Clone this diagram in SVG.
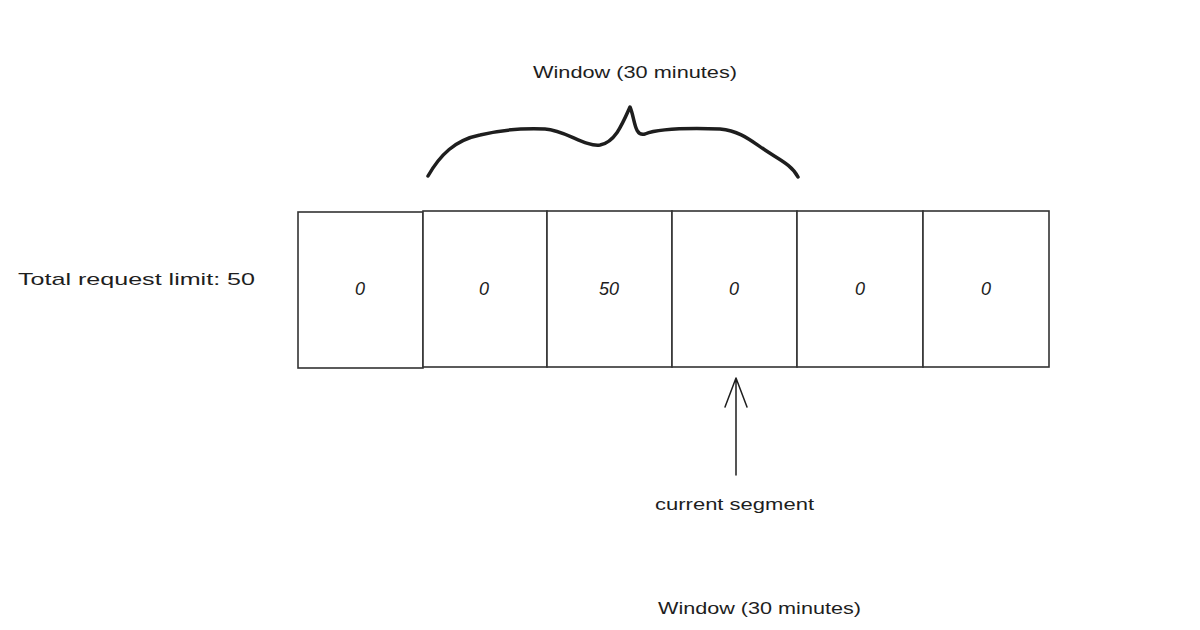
<svg xmlns="http://www.w3.org/2000/svg" width="1200" height="630" viewBox="0 0 1200 630">
<style>
.box{fill:#fff;stroke:#333;stroke-width:1.6}
.t{font-family:"Liberation Sans",Arial,sans-serif;font-size:17px;fill:#1e1e1e}
.v{font-family:"Liberation Sans",Arial,sans-serif;font-size:18px;font-style:italic;fill:#1e1e1e;text-anchor:middle}
.ln{fill:none;stroke:#1e1e1e;stroke-linecap:round;stroke-linejoin:round}
</style>
<rect width="1200" height="630" fill="#fff"/>
<g id="label-limit"><text class="t" x="18" y="285" textLength="237" lengthAdjust="spacingAndGlyphs">Total request limit: 50</text></g>
<g id="label-window-top"><text class="t" x="533" y="78" textLength="204" lengthAdjust="spacingAndGlyphs">Window (30 minutes)</text></g>
<g id="seg1"><rect class="box" x="298" y="212" width="125" height="156"/><text class="v" x="360" y="295">0</text></g>
<g id="seg2"><rect class="box" x="423" y="211" width="124" height="156"/><text class="v" x="484" y="295">0</text></g>
<g id="seg3"><rect class="box" x="547" y="211" width="125" height="156"/><text class="v" x="609" y="295">50</text></g>
<g id="seg4"><rect class="box" x="672" y="211" width="125" height="156"/><text class="v" x="734" y="295">0</text></g>
<g id="seg5"><rect class="box" x="797" y="211" width="126" height="156"/><text class="v" x="860" y="295">0</text></g>
<g id="seg6"><rect class="box" x="923" y="211" width="126" height="156"/><text class="v" x="986" y="295">0</text></g>
<g id="brace"><path class="ln" stroke-width="3.5" d="M428,176 C440,155 455,140 480,135 C500,130 520,128 545,129 C565,130 585,147 600,145 C615,142 622,125 630,107 C635,118 634,137 645,134 C660,128 690,128 720,129 C740,131 750,140 765,150 C780,160 792,165 798,177"/></g>
<g id="connectors"><path class="ln" stroke-width="1.5" d="M736,475 L736,378 M725,407 L736,378 L747,407"/></g>
<g id="label-current"><text class="t" x="655" y="510" textLength="159" lengthAdjust="spacingAndGlyphs">current segment</text></g>
<g id="label-window-bottom"><text class="t" x="658" y="614" textLength="203" lengthAdjust="spacingAndGlyphs">Window (30 minutes)</text></g>
</svg>
